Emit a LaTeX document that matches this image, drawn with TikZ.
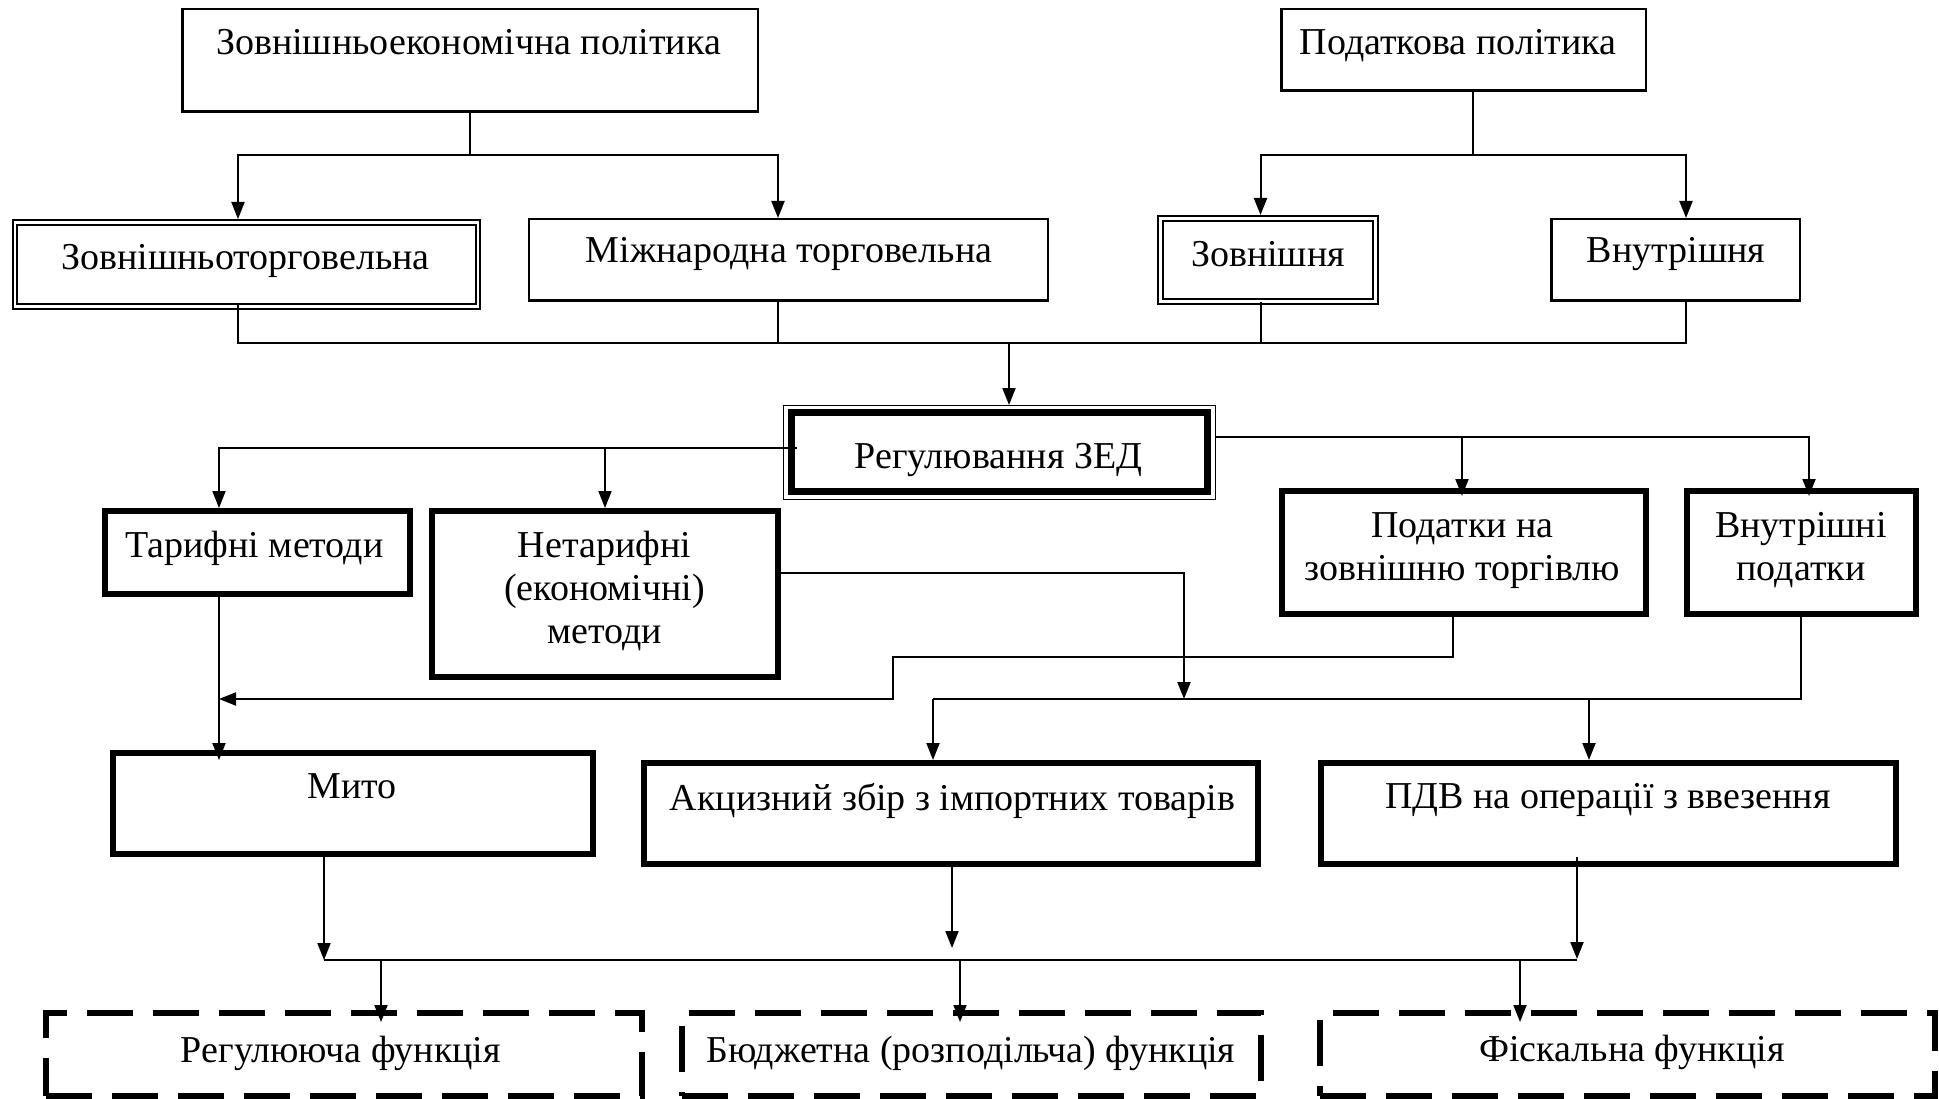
\documentclass[tikz,border=0pt]{standalone}
\usepackage{fontspec}
\setmainfont{Liberation Serif}
\usetikzlibrary{arrows.meta}
\begin{document}
\begin{tikzpicture}[x=1pt,y=-1pt,
  ln/.style={line width=2pt},
  arr/.style={line width=2pt,-{Triangle[length=17pt,width=13pt]}},
  thinbox/.style={draw,line width=2.5pt,inner sep=0pt},
  dblbox/.style={draw,line width=2.2pt,double,double distance=2.5pt,inner sep=0pt,outer sep=3.5pt},
  thickbox/.style={draw,line width=6pt,inner sep=0pt},
  regbox/.style={draw,line width=7pt,inner sep=0pt},
  dashbox/.style={draw,line width=6pt,dash pattern=on 46pt off 20pt,inner sep=0pt},
  txt/.style={font=\fontsize{38}{43}\selectfont,inner sep=0pt,anchor=base}
]
\useasboundingbox (0,0) rectangle (1939,1099);

% ---- boxes ----
\node[thinbox,minimum width=575.5pt,minimum height=102.5pt] (zep) at (470,60.5) {};
\node[thinbox,minimum width=364.5pt,minimum height=81.5pt] (pod) at (1463.5,50) {};
\node[dblbox,minimum width=463pt,minimum height=84pt] (zt) at (246.5,264.5) {};
\node[thinbox,minimum width=519pt,minimum height=81.5pt] (mt) at (788.25,260) {};
\node[dblbox,minimum width=215pt,minimum height=83pt] (zv) at (1268,260) {};
\node[thinbox,minimum width=248.5pt,minimum height=81.5pt] (vn) at (1675.5,260) {};
\node[regbox,minimum width=416pt,minimum height=79pt] (reg) at (999.5,452) {};
\draw[line width=1.5pt] ([shift={(-4.5pt,3.5pt)}]reg.north west) rectangle ([shift={(4.5pt,-4.5pt)}]reg.south east);
\node[thickbox,minimum width=305pt,minimum height=83pt] (tar) at (257.5,552.5) {};
\node[thickbox,minimum width=346pt,minimum height=166pt] (net) at (605,594) {};
\node[thickbox,minimum width=364pt,minimum height=123pt] (ptz) at (1464,552.5) {};
\node[thickbox,minimum width=228.5pt,minimum height=123pt] (vp) at (1801.25,552.5) {};
\node[thickbox,minimum width=480pt,minimum height=101pt] (myto) at (353,803.5) {};
\node[thickbox,minimum width=614pt,minimum height=101pt] (akc) at (951,813.5) {};
\node[thickbox,minimum width=575.5pt,minimum height=101pt] (pdv) at (1608.25,813.5) {};
\node[dashbox,minimum width=596pt,minimum height=83pt] (f1) at (344,1054.5) {};
\node[dashbox,minimum width=579pt,minimum height=83pt] (f2) at (971.5,1054.5) {};
\node[dashbox,minimum width=615pt,minimum height=83pt] (f3) at (1627.5,1054.5) {};

% ---- texts ----
\node[txt] (zept) at (468.5,55) {Зовнішньоекономічна політика};
\node[txt] (podt) at (1458,55) {Податкова політика};
\node[txt] (ztt) at (245.5,270) {Зовнішньоторговельна};
\node[txt] (mtt) at (789,263) {Міжнародна торговельна};
\node[txt] (zvt) at (1268,267) {Зовнішня};
\node[txt] (vnt) at (1676,263) {Внутрішня};
\node[txt] (regt) at (998.5,468) {Регулювання ЗЕД};
\node[txt] (tart) at (254.5,557) {Тарифні методи};
\node[txt] (nett1) at (604.5,557) {Нетарифні};
\node[txt] (nett2) at (604.5,600) {(економічні)};
\node[txt] (nett3) at (604.5,643) {методи};
\node[txt] (ptzt1) at (1462.5,537) {Податки на};
\node[txt] (ptzt2) at (1462.5,580) {зовнішню торгівлю};
\node[txt] (vpt1) at (1801,537) {Внутрішні};
\node[txt] (vpt2) at (1801,580) {податки};
\node[txt] (mytot) at (352,798) {Мито};
\node[txt] (akct) at (952.5,810) {Акцизний збір з імпортних товарів};
\node[txt] (pdvt) at (1608,808) {ПДВ на операції з ввезення};
\node[txt] (f1t) at (341,1062) {Регулююча функція};
\node[txt] (f2t) at (971,1062) {Бюджетна (розподільча) функція};
\node[txt] (f3t) at (1632,1061) {Фіскальна функція};

% ---- connectors ----
\draw[ln] (zep.south) -- ++(0,42) coordinate (j1);
\draw[arr] (j1) -| ([xshift=-8.5pt]zt.north);
\draw[arr] (j1) -| ([xshift=-10.25pt]mt.north);

\draw[ln] ([xshift=9.5pt]pod.south) -- ++(0,63) coordinate (j2);
\draw[arr] (j2) -| ([xshift=-7.5pt]zv.north);
\draw[arr] (j2) -| ([xshift=10.5pt]vn.north);

\coordinate (busA) at (0,343);
\draw[ln] ([xshift=-8.5pt,yshift=6pt]zt.south) |- ([xshift=10.5pt]vn.south |- busA) -- ([xshift=10.5pt]vn.south);
\draw[ln] ([xshift=-10.25pt]mt.south) -- ([xshift=-10.25pt]mt.south |- busA);
\draw[ln] ([xshift=-7.5pt,yshift=3pt]zv.south) -- ([xshift=-7.5pt]zv.south |- busA);
\draw[arr] ([xshift=9.5pt]reg.north |- busA) -- ([xshift=9.5pt,yshift=4pt]reg.north);

\coordinate (busR) at (0,448);
\draw[arr] ([xshift=9pt,yshift=4pt]reg.west) -| ([xshift=-38.5pt]tar.north);
\draw[arr] (net.north |- busR) -- (net.north);

\coordinate (busL) at (0,437);
\draw[arr] ([xshift=5pt,yshift=15pt]reg.east) -| ([xshift=7.75pt,yshift=-8pt]vp.north);
\draw[arr] ([xshift=-2pt]ptz.north |- busL) -- ([xshift=-2pt,yshift=-8pt]ptz.north);

\coordinate (bus2) at (0,699);
\coordinate (nt) at (1184,699);
\draw[arr] ([yshift=21pt]net.east) -| (nt);

\coordinate (k1) at (893,657);
\coordinate (tv) at ([xshift=-38.5pt]tar.south |- bus2);
\draw[arr] ([xshift=-11pt]ptz.south) |- (k1) |- (tv);
\draw[arr] ([xshift=-38.5pt]tar.south) -- ([xshift=-134pt,yshift=-10pt]myto.north);

\draw[ln] (vp.south) |- ([xshift=-18pt]akc.north |- bus2);
\draw[arr] ([xshift=-18pt]akc.north |- bus2) -- ([xshift=-18pt]akc.north);
\draw[arr] ([xshift=-19.25pt]pdv.north |- bus2) -- ([xshift=-19.25pt]pdv.north);

\coordinate (bus3) at (0,960);
\draw[arr] ([xshift=-29pt]myto.south) -- ([xshift=-29pt]myto.south |- bus3);
\draw[arr] ([xshift=1pt]akc.south) -- ([xshift=1pt,yshift=12pt]akc.south |- bus3);
\draw[arr] ([xshift=-31.25pt,yshift=10pt]pdv.south) -- ([xshift=-31.25pt,yshift=1pt]pdv.south |- bus3);
\draw[ln] ([xshift=-29pt]myto.south |- bus3) -- ([xshift=-31.25pt]pdv.south |- bus3);
\draw[arr] ([xshift=37pt]f1.north |- bus3) -- ([xshift=37pt,yshift=-12pt]f1.north);
\draw[arr] ([xshift=-11.5pt]f2.north |- bus3) -- ([xshift=-11.5pt,yshift=-12pt]f2.north);
\draw[arr] ([xshift=-107.5pt]f3.north |- bus3) -- ([xshift=-107.5pt,yshift=-12pt]f3.north);
\end{tikzpicture}
\end{document}
